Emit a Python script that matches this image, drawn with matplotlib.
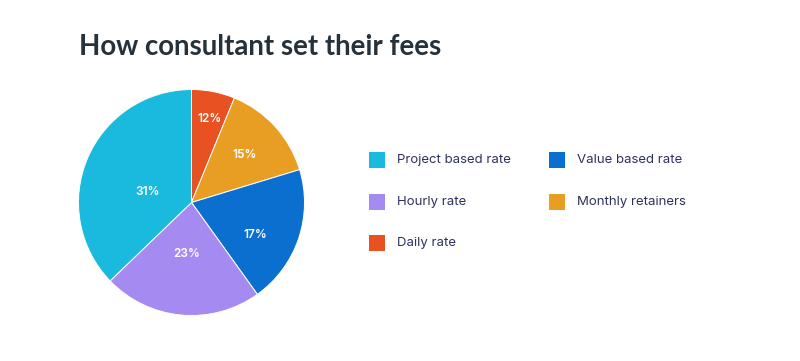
import matplotlib
matplotlib.use("Agg")
import matplotlib.pyplot as plt
from matplotlib.patches import Rectangle
import numpy as np

# Data (clockwise from top)
categories = ["Daily rate", "Monthly retainers", "Value based rate", "Hourly rate", "Project based rate"]
slice_sizes = [6.2, 14.1, 19.8, 22.7, 37.2]
slice_labels = ["12%", "15%", "17%", "23%", "31%"]
colors = ["#E85222", "#E79E22", "#0B6FD0", "#A58AF2", "#1ABADF"]
label_radius = [0.76, 0.63, 0.63, 0.46, 0.40]
label_angle_shift = [-1, 0, -8, 0, 9]

legend_order = ["Project based rate", "Value based rate", "Hourly rate", "Monthly retainers", "Daily rate"]

W, H = 800, 361
fig = plt.figure(figsize=(8, 3.61), dpi=100)
fig.patch.set_facecolor("white")

cx, cy, r = 191.5, 202.5, 113
ax = fig.add_axes([(cx - r) / W, (H - cy - r) / H, 2 * r / W, 2 * r / H])
wedges, _ = ax.pie(slice_sizes, colors=colors, startangle=90, counterclock=False,
                   wedgeprops=dict(edgecolor="white", linewidth=0.7))
ax.set_xlim(-1, 1)
ax.set_ylim(-1, 1)
ax.set_aspect("equal")
ax.axis("off")

for w, lab, lr, sh in zip(wedges, slice_labels, label_radius, label_angle_shift):
    ang = np.deg2rad((w.theta1 + w.theta2) / 2 + sh)
    ax.text(lr * np.cos(ang), lr * np.sin(ang), lab, color="white", ha="center", va="center",
            fontsize=8.5, fontweight="semibold", family=["Inter", "DejaVu Sans"])

fig.text(79 / W, 1 - 47 / H, "How consultant set their fees", fontsize=19.9, fontweight="bold",
         family=["Lato", "DejaVu Sans"], color="#25313B", ha="left", va="center")

color_map = dict(zip(categories, colors))
col_x = [369, 549]
row_y = [160, 202, 243]
sq = 16
for i, name in enumerate(legend_order):
    row, col = divmod(i, 2)
    x0 = col_x[col]
    y0 = row_y[row]
    fig.patches.append(Rectangle((x0 / W, (H - y0 - sq / 2) / H), sq / W, sq / H,
                                 transform=fig.transFigure, facecolor=color_map[name],
                                 edgecolor="none"))
    fig.text((x0 + 28) / W, 1 - y0 / H, name, fontsize=9.5, color="#2E3160",
             family=["Inter", "DejaVu Sans"], ha="left", va="center")

fig.savefig("out.png", dpi=100, facecolor="white")
